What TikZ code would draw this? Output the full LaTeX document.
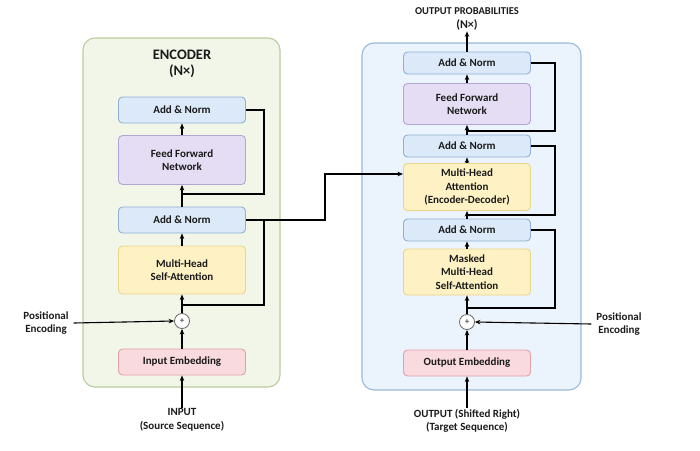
\documentclass[tikz,border=0pt]{standalone}
\usepackage{fontspec}
\setmainfont{Carlito}
\usetikzlibrary{arrows.meta,positioning,calc}
\definecolor{anF}{HTML}{DCE9F8}\definecolor{anD}{HTML}{8FB0D8}
\definecolor{ffF}{HTML}{E4DDF3}\definecolor{ffD}{HTML}{B3A6D6}
\definecolor{atF}{HTML}{FEF2C4}\definecolor{atD}{HTML}{EBD58A}
\definecolor{emF}{HTML}{F9DADE}\definecolor{emD}{HTML}{E3A0A9}
\definecolor{encF}{HTML}{F2F6E9}\definecolor{encD}{HTML}{B8CC9C}
\definecolor{decF}{HTML}{EBF3FC}\definecolor{decD}{HTML}{9BB8D9}
\definecolor{txt}{HTML}{1A1A1A}
\begin{document}
\begin{tikzpicture}[x=1pt,y=-1pt,
  font=\bfseries\fontsize{11}{13.5}\selectfont, text=txt,
  blk/.style={draw, rounded corners=4pt, line width=0.9pt, minimum width=127pt, align=center, inner sep=1pt},
  anbox/.style={blk, fill=anF, draw=anD},
  ffbox/.style={blk, fill=ffF, draw=ffD},
  attbox/.style={blk, fill=atF, draw=atD},
  embox/.style={blk, fill=emF, draw=emD},
  plusnode/.style={circle, draw=black!60, fill=white, line width=0.8pt, minimum size=15pt, inner sep=0pt, font=\fontsize{9}{9}\selectfont},
  lbl/.style={align=center, inner sep=1pt},
  arr/.style={-{Stealth[length=5.5pt,width=4.5pt]}, line width=1.1pt},
  res/.style={line width=1.1pt}]
\useasboundingbox (0,0) rectangle (700,450);
% containers
\draw[fill=encF, draw=encD, line width=1.1pt, rounded corners=12pt] (83,38) rectangle (280,387);
\draw[fill=decF, draw=decD, line width=1.1pt, rounded corners=12pt] (362,43) rectangle (581,390);
% encoder
\node[lbl, font=\bfseries\fontsize{14.5}{16.5}\selectfont] (etitle) at (182,64) {ENCODER\\(N×)};
\node[anbox, minimum height=26pt] (eAN2) at (182,110) {Add \& Norm};
\node[ffbox, minimum height=49pt] (eFF) at (182,160) {Feed Forward\\Network};
\node[anbox, minimum height=26pt] (eAN1) at (182,220) {Add \& Norm};
\node[attbox, minimum height=48pt] (eMH) at (182,270) {Multi-Head\\Self-Attention};
\node[plusnode] (eplus) at (182,321) {+};
\node[embox, minimum height=26pt] (eIE) at (182,362) {Input Embedding};
\node[lbl] (einp) at (182,420) {INPUT\\(Source Sequence)};
\node[lbl] (peL) at (46,323) {Positional\\Encoding};
\draw[arr] (einp.north) -- (eIE.south);
\draw[arr] (eIE.north) -- (eplus.south);
\draw[arr] (eplus.north) -- (eMH.south);
\draw[arr] (eMH.north) -- (eAN1.south);
\draw[arr] (eAN1.north) -- (eFF.south);
\draw[arr] (eFF.north) -- (eAN2.south);
\draw[arr] ([xshift=4pt]peL.east) -- (eplus.west);
\coordinate (eR2) at (182,194);
\coordinate (eR1) at (182,305);
\draw[res] (eAN2.east) -- (264,110) |- (eR2);
\draw[res] (eAN1.east) -- (264,220) |- (eR1);
% decoder
\node[lbl, font=\bfseries\fontsize{10.5}{13.5}\selectfont] (dtitle) at (467,19) {OUTPUT PROBABILITIES\\{\fontsize{12}{13.5}\selectfont (N×)}};
\node[anbox, minimum height=22pt] (dAN3) at (467,63) {Add \& Norm};
\node[ffbox, minimum height=41pt] (dFF) at (467,104) {Feed Forward\\Network};
\node[anbox, minimum height=22pt] (dAN2) at (467,146) {Add \& Norm};
\node[attbox, minimum height=47pt] (dMH) at (467,187) {Multi-Head\\Attention\\(Encoder-Decoder)};
\node[anbox, minimum height=22pt] (dAN1) at (467,230) {Add \& Norm};
\node[attbox, minimum height=46pt] (dMM) at (467,272) {Masked\\Multi-Head\\Self-Attention};
\node[plusnode] (dplus) at (467,322) {+};
\node[embox, minimum height=26pt] (dOE) at (467,363) {Output Embedding};
\node[lbl] (dout) at (467,421) {OUTPUT (Shifted Right)\\(Target Sequence)};
\node[lbl] (peR) at (619,324) {Positional\\Encoding};
\draw[arr] (dout.north) -- (dOE.south);
\draw[arr] (dOE.north) -- (dplus.south);
\draw[arr] (dplus.north) -- (dMM.south);
\draw[arr] (dMM.north) -- (dAN1.south);
\draw[arr] (dAN1.north) -- (dMH.south);
\draw[arr] (dMH.north) -- (dAN2.south);
\draw[arr] (dAN2.north) -- (dFF.south);
\draw[arr] (dFF.north) -- (dAN3.south);
\draw[arr] (dAN3.north) -- (dtitle.south);
\draw[arr] ([xshift=-4pt]peR.west) -- (dplus.east);
\coordinate (dR3) at (467,131);
\coordinate (dR2) at (467,215);
\coordinate (dR1) at (467,308);
\draw[res] (dAN3.east) -- (555,63) |- (dR3);
\draw[res] (dAN2.east) -- (555,146) |- (dR2);
\draw[res] (dAN1.east) -- (555,230) |- (dR1);
% encoder to decoder
\draw[arr] (eAN1.east) -- (325,220) |- ([yshift=13pt]dMH.west);
\end{tikzpicture}
\end{document}
